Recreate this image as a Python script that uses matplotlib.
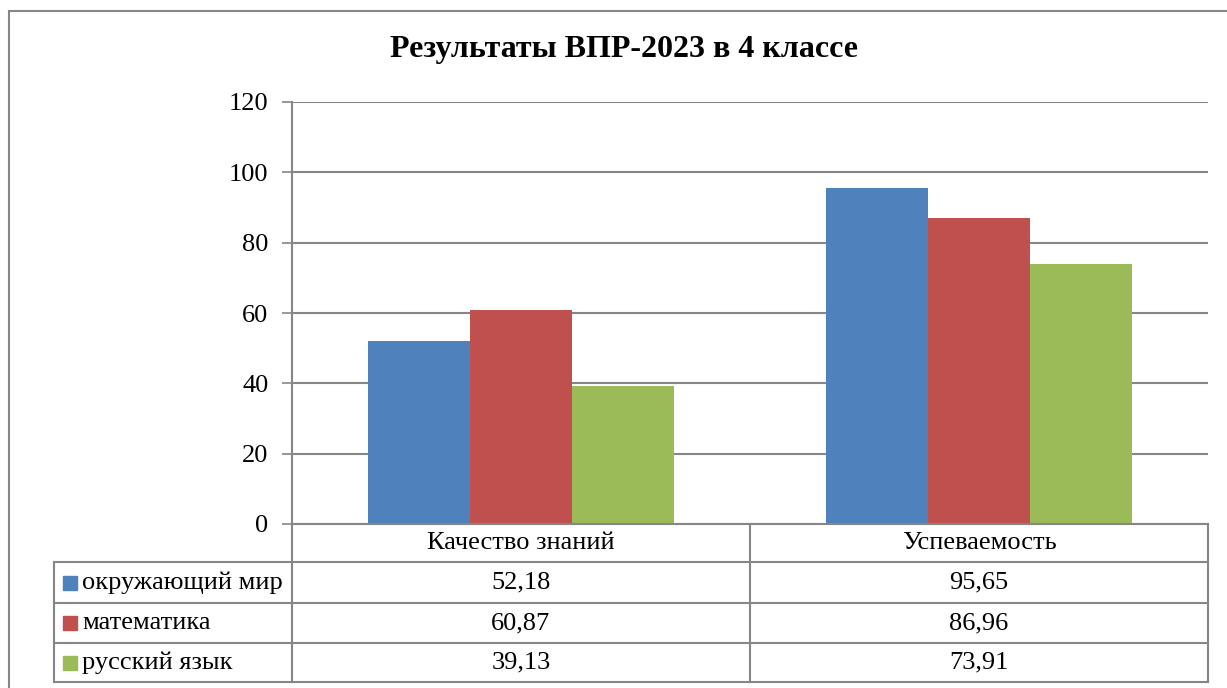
import matplotlib.pyplot as plt
from matplotlib.lines import Line2D
from matplotlib.patches import Rectangle
import numpy as np

plt.rcParams['font.family'] = ['Liberation Serif', 'DejaVu Serif']

categories = ["Качество знаний", "Успеваемость"]
series_names = ["окружающий мир", "математика", "русский язык"]
okr_mir = [52.18, 95.65]
matem = [60.87, 86.96]
rus_yaz = [39.13, 73.91]
value_labels = [["52,18", "95,65"], ["60,87", "86,96"], ["39,13", "73,91"]]
colors = ["#4F81BD", "#C0504D", "#9BBB59"]
yticks = [0, 20, 40, 60, 80, 100, 120]

W, H = 1227, 688
fig = plt.figure(figsize=(W / 100, H / 100), dpi=100)

def fx(px):
    return px / W

def fy(py):
    return 1 - py / H

grid_c = "#868686"

# outer chart border
fig.add_artist(Rectangle((fx(9), fy(700)), fx(1240), 689 / H,
                         transform=fig.transFigure, fill=False,
                         edgecolor=grid_c, lw=1.5))

# plot area
x0, x1, ytop, ybot = 292, 1208, 102, 524
ax = fig.add_axes([fx(x0), fy(ybot), fx(x1 - x0), (ybot - ytop) / H])
ax.set_ylim(0, 120)
ax.set_xlim(0, len(categories))
ax.set_yticks(yticks)
ax.set_yticklabels([str(t) for t in yticks], fontsize=19)
ax.tick_params(axis='y', length=7, width=1.2, color=grid_c, pad=10)
ax.set_xticks([])
for s in ["top", "right", "bottom"]:
    ax.spines[s].set_visible(False)
ax.spines["left"].set_color(grid_c)
ax.spines["left"].set_linewidth(1.5)
ax.yaxis.grid(True, color=grid_c, lw=1.5)
ax.set_axisbelow(True)

bw = 1 / 4.5
xs = np.arange(len(categories)) + 0.5
for i, vals in enumerate([okr_mir, matem, rus_yaz]):
    ax.bar(xs + (i - 1) * bw, vals, width=bw, color=colors[i], zorder=3)

fig.text(fx(624), fy(50), "Результаты ВПР-2023 в 4 классе", ha="center",
         va="center", fontsize=23, fontweight="bold")

# data table
rows = [524, 562, 603, 643, 682]
tl, mid = 54, 750

def hline(y, xa, xb):
    fig.add_artist(Line2D([fx(xa), fx(xb)], [fy(y), fy(y)], color=grid_c,
                          lw=1.5, transform=fig.transFigure))

def vline(x, ya, yb):
    fig.add_artist(Line2D([fx(x), fx(x)], [fy(ya), fy(yb)], color=grid_c,
                          lw=1.5, transform=fig.transFigure))

hline(rows[0], x0, x1)
for y in rows[1:]:
    hline(y, tl, x1)
vline(tl, rows[1], rows[4])
vline(x0, rows[0], rows[4])
vline(mid, rows[0], rows[4])
vline(x1, rows[0], rows[4])

col_centers = [(x0 + mid) / 2, (mid + x1) / 2]
for j, cat in enumerate(categories):
    fig.text(fx(col_centers[j]), fy((rows[0] + rows[1]) / 2), cat,
             ha="center", va="center", fontsize=19)
for i, name in enumerate(series_names):
    yc = (rows[i + 1] + rows[i + 2]) / 2
    fig.add_artist(Rectangle((fx(63), fy(yc + 7)), fx(14), 14 / H,
                             transform=fig.transFigure, color=colors[i]))
    fig.text(fx(82), fy(yc), name, ha="left", va="center", fontsize=19)
    for j in range(len(categories)):
        fig.text(fx(col_centers[j]), fy(yc), value_labels[i][j],
                 ha="center", va="center", fontsize=19)

fig.savefig("out.png", dpi=100)
